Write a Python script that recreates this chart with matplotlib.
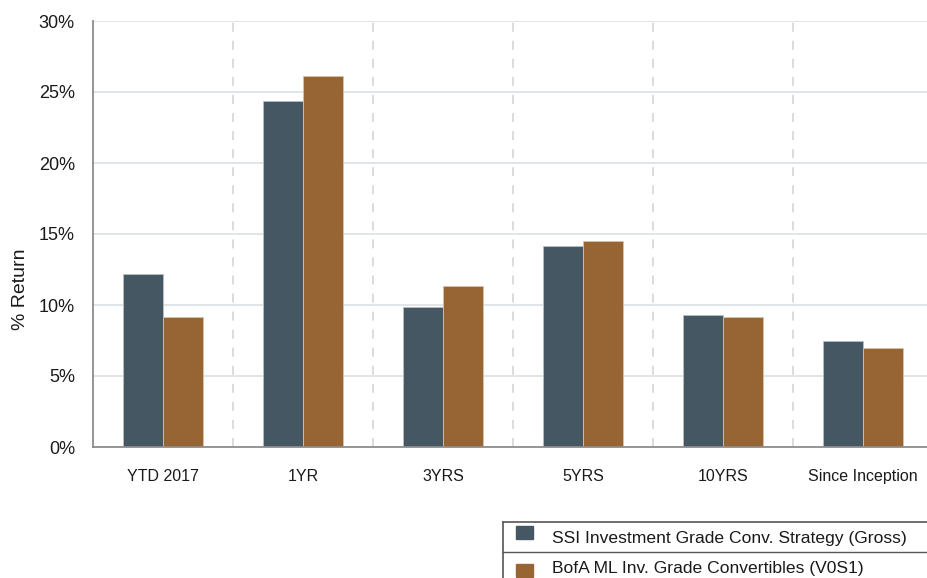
import numpy as np
import matplotlib
matplotlib.use("Agg")
import matplotlib.pyplot as plt
from matplotlib.patches import Rectangle
from matplotlib.lines import Line2D
from matplotlib.ticker import FuncFormatter

plt.rcParams['font.family'] = ['Liberation Sans', 'DejaVu Sans']

categories = ['YTD 2017', '1YR', '3YRS', '5YRS', '10YRS', 'Since Inception']
ssi_gross = [12.15, 24.35, 9.85, 14.15, 9.3, 7.5]
bofa_v0s1 = [9.15, 26.1, 11.35, 14.5, 9.15, 7.0]
series_names = ['SSI Investment Grade Conv. Strategy (Gross)',
                'BofA ML Inv. Grade Convertibles (V0S1)']
series_colors = ['#445762', '#976533']

W, H = 927, 578
fig = plt.figure(figsize=(W / 100, H / 100), dpi=100)
ax = fig.add_axes([93 / W, 1 - 447 / H, (W - 93) / W, (447 - 21) / H])

x = np.arange(len(categories))
bw = 0.2857
ax.bar(x - bw / 2, ssi_gross, bw, color=series_colors[0], edgecolor='#b9c0c5', linewidth=0.6)
ax.bar(x + bw / 2, bofa_v0s1, bw, color=series_colors[1], edgecolor='#d8c2a8', linewidth=0.6)

ax.set_xlim(-0.5, -0.5 + (W - 93) / 140)
ax.set_ylim(0, 30)
ax.set_yticks(np.arange(0, 31, 5))
ax.yaxis.set_major_formatter(FuncFormatter(lambda v, p: f"{v:.0f}%"))
ax.set_xticks(x)
ax.set_xticklabels(categories)
ax.tick_params(axis='both', length=0, colors='#1a1a1a')
ax.tick_params(axis='x', pad=16, labelsize=11.5)
ax.tick_params(axis='y', pad=13, labelsize=13)

ax.set_axisbelow(True)
ax.yaxis.grid(True, color='#dee3e7', linewidth=1.3)
for b in x[:-1] + 0.5:
    ax.axvline(b, color='#d9d9d9', linewidth=1.3, linestyle=(0, (5, 5)), zorder=0)

for side in ['top', 'right']:
    ax.spines[side].set_visible(False)
ax.spines['left'].set_color('#8c8c8c')
ax.spines['left'].set_linewidth(1.3)
ax.spines['bottom'].set_color('#8c8c8c')
ax.spines['bottom'].set_linewidth(1.3)

ax.set_ylabel('% Return', fontsize=14, color='#1a1a1a')
ax.yaxis.set_label_coords(29 / W, 0.5, transform=fig.transFigure)


# legend drawn as a table below the chart
def fx(px):
    return px / W


def fy(py):
    return 1 - py / H


tr = fig.transFigure
fig.add_artist(Line2D([fx(503), fx(W + 5)], [fy(522), fy(522)], color='#555555', lw=1.2, transform=tr))
fig.add_artist(Line2D([fx(503), fx(W + 5)], [fy(552), fy(552)], color='#555555', lw=1.0, transform=tr))
fig.add_artist(Line2D([fx(503), fx(503)], [fy(522), fy(H + 5)], color='#555555', lw=1.2, transform=tr))
row_tops = [526, 564]
text_y = [539, 569]
for name, col, ry, ty in zip(series_names, series_colors, row_tops, text_y):
    fig.add_artist(Rectangle((fx(516), fy(ry + 13)), 17 / W, 13 / H, color=col, transform=tr))
    fig.text(fx(552), fy(ty), name, fontsize=12.6, color='#1a1a1a', va='center', ha='left')

fig.savefig('out.png', dpi=100)
